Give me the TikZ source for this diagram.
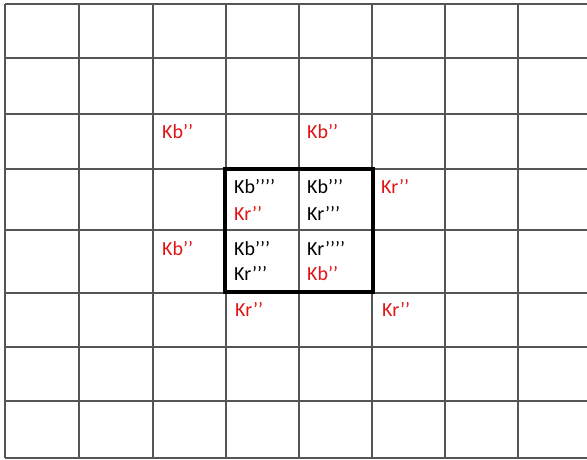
\documentclass[tikz,border=0pt]{standalone}
\usepackage{fontspec}
\setmainfont{Carlito}
\definecolor{gridgray}{RGB}{85,85,85}
\definecolor{kred}{RGB}{225,20,20}
\tikzset{
  gridline/.style={draw=gridgray,line width=1.3pt},
  boxline/.style={draw=black,line width=4pt},
  lbl/.style={anchor=base west,inner sep=0pt,font=\fontsize{20}{24}\selectfont},
  redlbl/.style={lbl,text=kred},
  blklbl/.style={lbl,text=black}
}
\begin{document}
\begin{tikzpicture}[x=1pt,y=-1pt]
\useasboundingbox (0,0) rectangle (587,459);
\fill[white] (0,0) rectangle (587,459);
% horizontal grid lines
\foreach \yy in {4,58,114,169,230,293,347,401,458}
  \draw[gridline] (5,\yy) -- (587,\yy);
% vertical grid lines
\foreach \xx in {5,79,153,226,299,372,445,518}
  \draw[gridline] (\xx,4) -- (\xx,458);
% thick box
\draw[boxline] (225,169) rectangle (373,292);
% labels
\node[redlbl] (a1) at (162,138) {Kb’’};
\node[redlbl] (a2) at (307,138) {Kb’’};
\node[redlbl] (a3) at (381,193) {Kr’’};
\node[redlbl] (a4) at (162,255) {Kb’’};
\node[redlbl] (a5) at (235,316) {Kr’’};
\node[redlbl] (a6) at (382,316) {Kr’’};
\node[blklbl] (b1) at (234,193) {Kb’’’’};
\node[redlbl] (b2) at (234,220) {Kr’’};
\node[blklbl] (c1) at (307,193) {Kb’’’};
\node[blklbl] (c2) at (307,220) {Kr’’’};
\node[blklbl] (d1) at (234,255) {Kb’’’};
\node[blklbl] (d2) at (234,280) {Kr’’’};
\node[blklbl] (e1) at (307,255) {Kr’’’’};
\node[redlbl] (e2) at (307,280) {Kb’’};
\end{tikzpicture}
\end{document}
